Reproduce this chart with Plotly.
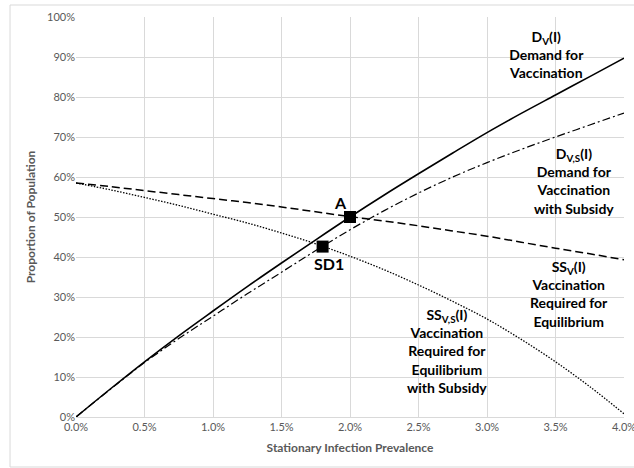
import plotly.graph_objects as go

# Stationary infection prevalence (%) at which each curve is sampled
prevalence = [0.0, 0.25, 0.5, 0.75, 1.0, 1.25, 1.5, 1.75, 2.0,
              2.25, 2.5, 2.75, 3.0, 3.25, 3.5, 3.75, 4.0]

# Proportion of population (%) for each curve
demand = [0.0, 7.0, 13.8, 20.3, 26.5, 32.6, 38.5, 44.3, 50.0,
          55.5, 60.8, 66.0, 71.1, 75.9, 80.5, 85.1, 89.7]
demand_subsidy = [0.0, 6.9, 13.6, 19.6, 25.2, 30.8, 36.2, 41.6, 46.8,
                  51.6, 56.0, 60.0, 63.6, 66.9, 70.0, 73.0, 76.0]
required = [58.5, 57.6, 56.6, 55.6, 54.6, 53.6, 52.5, 51.3, 50.1,
            49.0, 47.8, 46.5, 45.2, 43.7, 42.2, 40.8, 39.3]
required_subsidy = [58.5, 56.8, 54.9, 52.9, 50.7, 48.5, 46.0, 43.3, 40.2,
                    36.8, 33.0, 28.9, 24.5, 19.4, 13.8, 7.6, 0.8]

# Equilibrium points
point_names = ["A", "SD1"]
point_x = [2.0, 1.8]
point_y = [50.0, 42.6]

x_ticks = [0.0, 0.5, 1.0, 1.5, 2.0, 2.5, 3.0, 3.5, 4.0]
y_ticks = [0, 10, 20, 30, 40, 50, 60, 70, 80, 90, 100]

FONT = "Lato"
fig = go.Figure()

line_styles = [
    (demand, "solid", 1.6),
    (demand_subsidy, "8px,3px,2px,3px", 1.2),
    (required, "8px,4px", 1.5),
    (required_subsidy, "1.5px,1.5px", 1.3),
]
for values, dash, width in line_styles:
    fig.add_trace(go.Scatter(
        x=prevalence, y=values, mode="lines",
        line=dict(color="black", width=width, dash=dash, shape="spline", smoothing=1.0),
        showlegend=False, hoverinfo="skip",
    ))

fig.add_trace(go.Scatter(
    x=point_x, y=point_y, mode="markers",
    marker=dict(symbol="square", size=12, color="black"),
    showlegend=False,
))

label_font = dict(family=FONT, size=14, color="black")
labels = [
    (3.434, 90.7, "D<sub>V</sub>(I)<br>Demand for<br>Vaccination"),
    (3.635, 59.1, "D<sub>V,S</sub>(I)<br>Demand for<br>Vaccination<br>with Subsidy"),
    (3.602, 30.75, "SS<sub>V</sub>(I)<br>Vaccination<br>Required for<br>Equilibrium"),
    (2.71, 16.6, "SS<sub>V,S</sub>(I)<br>Vaccination<br>Required for<br>Equilibrium<br>with Subsidy"),
]
for x, y, text in labels:
    fig.add_annotation(x=x, y=y, text="<b>" + text + "</b>", showarrow=False,
                       font=label_font, align="center", xanchor="center", yanchor="middle")

point_label_pos = [(1.927, 53.75), (1.847, 38.5)]
for name, (x, y) in zip(point_names, point_label_pos):
    fig.add_annotation(x=x, y=y, text="<b>" + name + "</b>", showarrow=False,
                       font=dict(family=FONT, size=16, color="black"))

# Light chart-area border
fig.add_shape(type="rect", xref="paper", yref="paper",
              x0=-0.1204, x1=1.03, y0=-0.125, y1=1.03,
              line=dict(color="#d9d9d9", width=1), layer="below")

axis_common = dict(
    showgrid=True, gridcolor="#d9d9d9", gridwidth=1,
    zeroline=False, ticks="", ticklabeloverflow="allow", automargin=False,
    tickfont=dict(family=FONT, size=11, color="#595959"),
)
fig.update_xaxes(
    range=[0, 4.0], tickvals=x_ticks, ticktext=[f"{v:.1f}%" for v in x_ticks],
    title=dict(text="<b>Stationary Infection Prevalence</b>",
               font=dict(family=FONT, size=12, color="#595959"), standoff=11),
    showline=True, linecolor="#d9d9d9", **axis_common,
)
fig.update_yaxes(
    range=[0, 100], tickvals=y_ticks, ticktext=[f"{v}%" for v in y_ticks],
    title=dict(text="<b>Proportion of Population</b>",
               font=dict(family=FONT, size=12, color="#595959"), standoff=8),
    showline=False, **axis_common,
)

fig.update_layout(
    width=634, height=468,
    margin=dict(l=76, r=10, t=17, b=51),
    paper_bgcolor="white", plot_bgcolor="white",
    font=dict(family=FONT),
)

fig.write_html("out.html")
